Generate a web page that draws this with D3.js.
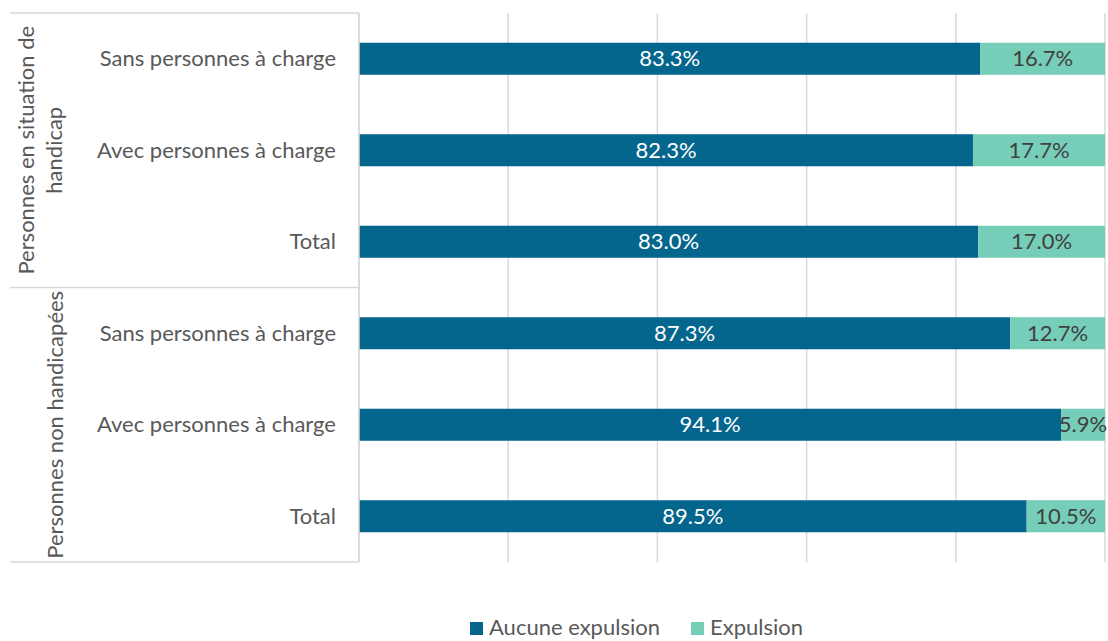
<!DOCTYPE html>
<html><head><meta charset="utf-8">
<script src="https://cdn.jsdelivr.net/npm/d3@7"></script>
<style>body{margin:0;background:#fff}svg{display:block}text{font-family:Lato,sans-serif}</style>
</head><body><svg id="c" width="1108" height="641"></svg>
<script>
const groups = ["Personnes en situation de|handicap", "Personnes non handicapées"];
const categories = ["Sans personnes à charge", "Avec personnes à charge", "Total"];
const aucune = [83.3, 82.3, 83.0, 87.3, 94.1, 89.5];
const expulsion = [16.7, 17.7, 17.0, 12.7, 5.9, 10.5];
const seriesNames = ["Aucune expulsion", "Expulsion"];
const xTicks = [0, 20, 40, 60, 80, 100];

const colors = ["#05668D", "#76CDB8"];
const textColors = ["#ffffff", "#404040"];
const FS = 22;
const svg = d3.select("#c");
const L = 359, R = 1105, T = 13, B = 562;
const rows = [];
groups.forEach((g, gi) => categories.forEach((c, ci) => rows.push({g: gi, c, i: gi * 3 + ci})));
const x = d3.scaleLinear().domain([0, 100]).range([L, R]);
const y = d3.scaleBand().domain(rows.map(r => r.i)).range([T, B]).paddingInner(0.65).paddingOuter(0.325);

svg.append("g").selectAll("line").data(xTicks).join("line")
  .attr("x1", d => x(d)).attr("x2", d => x(d)).attr("y1", T).attr("y2", B)
  .attr("stroke", "#d9d9d9").attr("stroke-width", 1.5);

const gH = (B - T) / groups.length;
svg.append("g").selectAll("line").data(d3.range(groups.length + 1)).join("line")
  .attr("x1", 10).attr("x2", L).attr("y1", d => T + d * gH).attr("y2", d => T + d * gH)
  .attr("stroke", "#d9d9d9").attr("stroke-width", 1.5);

const stacked = rows.map(r => {
  const a = aucune[r.i], e = expulsion[r.i];
  return [{r, s: 0, x0: 0, x1: a, v: a}, {r, s: 1, x0: a, x1: a + e, v: e}];
}).flat();
svg.append("g").selectAll("rect").data(stacked).join("rect")
  .attr("x", d => x(d.x0)).attr("width", d => x(d.x1) - x(d.x0))
  .attr("y", d => y(d.r.i)).attr("height", y.bandwidth())
  .attr("fill", d => colors[d.s]);
svg.append("g").selectAll("text").data(stacked).join("text")
  .attr("x", d => (x(d.x0) + x(d.x1)) / 2).attr("y", d => y(d.r.i) + y.bandwidth() / 2)
  .attr("dy", "0.35em").attr("text-anchor", "middle")
  .attr("font-size", FS).attr("fill", d => textColors[d.s])
  .text(d => d.v.toFixed(1) + "%");

svg.append("g").selectAll("text").data(rows).join("text")
  .attr("x", 336).attr("y", d => y(d.i) + y.bandwidth() / 2).attr("dy", "0.35em")
  .attr("text-anchor", "end").attr("font-size", FS).attr("fill", "#595959")
  .text(d => d.c);

groups.forEach((g, gi) => {
  const lines = g.split("|");
  const cy = T + gH * gi + gH / 2;
  const t = svg.append("text").attr("transform", `translate(${gi === 0 ? 34 : 63},${cy}) rotate(-90)`)
    .attr("text-anchor", "middle").attr("font-size", FS).attr("fill", "#595959");
  lines.forEach((ln, li) => t.append("tspan").attr("x", 0).attr("dy", li === 0 ? 0 : 28).text(ln));
});
svg.append("line").attr("x1", L).attr("x2", L).attr("y1", T).attr("y2", B).attr("stroke", "#d9d9d9").attr("stroke-width", 1.5);

const leg = svg.append("g");
const legX = [470, 691];
seriesNames.forEach((s, i) => {
  leg.append("rect").attr("x", legX[i]).attr("y", 622).attr("width", 13).attr("height", 13).attr("fill", colors[i]);
  leg.append("text").attr("x", legX[i] + 19).attr("y", 627).attr("dy", "0.35em")
    .attr("font-size", FS).attr("fill", "#595959").text(s);
});
</script></body></html>
